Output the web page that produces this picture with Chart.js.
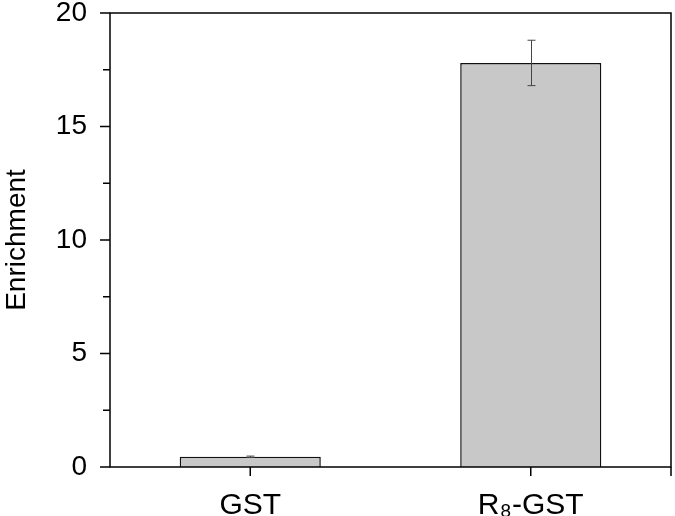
<!DOCTYPE html>
<html>
<head>
<meta charset="utf-8">
<script src="https://cdn.jsdelivr.net/npm/chart.js@4"></script>
<style>
  html, body { margin: 0; padding: 0; background: #fff; }
  #wrap { width: 675px; height: 516px; position: relative; }
</style>
</head>
<body>
<div id="wrap"><canvas id="enrichChart"></canvas></div>
<script>
const categories = ['GST', 'R₈-GST'];
const enrichment = [0.45, 17.8];
const enrichmentErr = [0.03, 1.0];
const yTickValues = [0, 5, 10, 15, 20];

const FONT = "'Liberation Sans', Arial, Helvetica, sans-serif";

// box around the plot, tick marks and error bars
const framePlugin = {
  id: 'frame',
  afterDatasetsDraw(chart) {
    const ctx = chart.ctx;
    const y = chart.scales.y;
    const meta = chart.getDatasetMeta(0);
    ctx.save();
    ctx.strokeStyle = '#444';
    ctx.lineWidth = 1;
    meta.data.forEach((bar, i) => {
      const top = y.getPixelForValue(enrichment[i] + enrichmentErr[i]);
      const bot = y.getPixelForValue(enrichment[i] - enrichmentErr[i]);
      const x = Math.round(bar.x) + 0.5;
      ctx.beginPath();
      ctx.moveTo(x, top); ctx.lineTo(x, bot);
      ctx.moveTo(x - 4, top); ctx.lineTo(x + 4, top);
      ctx.moveTo(x - 4, bot); ctx.lineTo(x + 4, bot);
      ctx.stroke();
    });
    ctx.restore();
  },
  afterDraw(chart) {
    const ctx = chart.ctx;
    const a = chart.chartArea;
    const y = chart.scales.y;
    const meta = chart.getDatasetMeta(0);
    ctx.save();
    ctx.strokeStyle = '#000';
    ctx.lineWidth = 1.5;
    ctx.strokeRect(a.left, a.top, a.right - a.left, a.bottom - a.top);
    ctx.beginPath();
    // y ticks, major and minor
    for (let i = 0; i < yTickValues.length; i++) {
      const py = y.getPixelForValue(yTickValues[i]);
      ctx.moveTo(a.left - 10, py); ctx.lineTo(a.left, py);
      if (i < yTickValues.length - 1) {
        const my = y.getPixelForValue((yTickValues[i] + yTickValues[i + 1]) / 2);
        ctx.moveTo(a.left - 7, my); ctx.lineTo(a.left, my);
      }
    }
    // x ticks at category centres and right end
    meta.data.forEach(bar => {
      ctx.moveTo(bar.x, a.bottom); ctx.lineTo(bar.x, a.bottom + 9);
    });
    ctx.moveTo(a.right, a.bottom); ctx.lineTo(a.right, a.bottom + 9);
    ctx.stroke();
    ctx.restore();
  }
};

new Chart(document.getElementById('enrichChart'), {
  type: 'bar',
  data: {
    labels: categories,
    datasets: [{
      data: enrichment,
      backgroundColor: '#c8c8c8',
      borderColor: '#111',
      borderWidth: 1.5,
      categoryPercentage: 1,
      barPercentage: 0.503
    }]
  },
  options: {
    responsive: true,
    maintainAspectRatio: false,
    animation: false,
    layout: { padding: { left: 0, top: 13, right: 4, bottom: 0 } },
    plugins: {
      legend: { display: false },
      tooltip: { enabled: false }
    },
    scales: {
      x: {
        grid: { display: false, drawTicks: false },
        border: { display: false },
        ticks: { color: '#000', padding: 21, font: { size: 30, family: FONT } },
        afterFit: s => { s.height = 49; s.paddingLeft = 0; s.paddingRight = 0; }
      },
      y: {
        min: 0,
        max: 20,
        grid: { display: false, drawTicks: false },
        border: { display: false },
        ticks: { stepSize: 5, color: '#000', padding: 23, font: { size: 28, family: FONT } },
        title: {
          display: true,
          text: 'Enrichment',
          color: '#000',
          padding: { top: 0, bottom: 0 },
          font: { size: 28, family: FONT }
        },
        afterFit: s => { s.width = 110; s.paddingTop = 0; s.paddingBottom = 0; }
      }
    }
  },
  plugins: [framePlugin]
});
</script>
</body>
</html>
